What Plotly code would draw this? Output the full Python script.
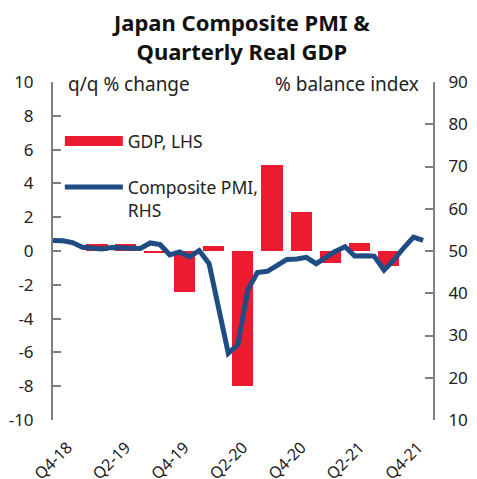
import plotly.graph_objects as go
import pandas as pd

# quarterly real GDP, q/q % change (LHS)
quarters = ["Q4-18", "Q1-19", "Q2-19", "Q3-19", "Q4-19", "Q1-20", "Q2-20",
            "Q3-20", "Q4-20", "Q1-21", "Q2-21", "Q3-21", "Q4-21"]
gdp = [None, 0.4, 0.4, -0.1, -2.4, 0.3, -8.0, 5.1, 2.3, -0.7, 0.5, -0.9, None]

# monthly composite PMI, Oct-18 .. Dec-21 (RHS)
pmi = [52.5, 52.4, 52.0, 50.9, 50.7, 50.5, 50.8, 50.7, 50.8, 50.6, 51.9, 51.5,
       49.1, 49.8, 48.6, 50.1, 47.0, 36.2, 25.8, 27.8, 40.8, 44.9, 45.2, 46.6,
       48.0, 48.1, 48.5, 47.0, 48.5, 49.9, 51.0, 48.8, 48.9, 48.8, 45.5, 47.9,
       50.7, 53.3, 52.5]

label_quarters = ["Q4-18", "Q2-19", "Q4-19", "Q2-20", "Q4-20", "Q2-21", "Q4-21"]
lhs_ticks = [-10, -8, -6, -4, -2, 0, 2, 4, 6, 8, 10]
lhs_text = ["-10", "-8", "-6", "-4", "-2", "0", "2", "4", "6", "8", "10"]

months = pd.date_range("2018-10-01", periods=len(pmi), freq="MS")
q_start = pd.date_range("2018-10-01", periods=len(quarters), freq="QS")
q_mid = q_start + pd.Timedelta(days=45, hours=12)
lbl_pos = [q_mid[quarters.index(q)] for q in label_quarters]

RED = "#ED1B2F"
BLUE = "#1F4C82"
GREY = "#7F7F7F"
FONT = "Noto Sans"
x_range = ["2018-10-01", "2022-01-01"]

fig = go.Figure()

fig.add_trace(go.Bar(
    x=q_mid, y=gdp, name="GDP, LHS",
    marker=dict(color=RED, line=dict(width=0)),
    width=66 * 86400000,
    showlegend=False,
))
# legend key for the bars (wide swatch like the original)
fig.add_trace(go.Scatter(
    x=[None], y=[None], mode="lines", name="GDP, LHS",
    line=dict(color=RED, width=12), legend="legend",
))
fig.add_trace(go.Scatter(
    x=months, y=pmi, mode="lines", name="Composite PMI,<br>RHS",
    line=dict(color=BLUE, width=5), yaxis="y2", legend="legend2",
))

# page body has an 8px margin, so the figure is sized/offset to fit the window
fig.update_layout(
    template="none",
    width=469, height=471,
    margin=dict(l=45, r=44, t=74, b=59),
    paper_bgcolor="white", plot_bgcolor="white",
    font=dict(family=FONT, size=17, color="#222222"),
    bargap=0,
    xaxis=dict(
        type="date", range=x_range, showgrid=False, zeroline=False,
        showline=False, ticks="", tickvals=lbl_pos, ticktext=label_quarters,
        tickangle=-45, tickfont=dict(size=16), automargin=False,
        ticklabelstandoff=14,
    ),
    xaxis2=dict(
        type="date", range=x_range, overlaying="x", anchor="free",
        position=0.5, showgrid=False, zeroline=False, showline=True,
        linecolor=GREY, linewidth=2, ticks="outside", ticklen=6,
        tickwidth=2, tickcolor=GREY, tick0="2019-01-01", dtick="M3",
        showticklabels=False, automargin=False,
    ),
    yaxis=dict(
        range=[-10, 10], tickvals=lhs_ticks, ticktext=lhs_text,
        showgrid=False, zeroline=False,
        showline=True, linecolor=GREY, linewidth=2, ticks="inside",
        ticklen=8, tickwidth=2, tickcolor=GREY, ticklabelstandoff=14,
        automargin=False,
    ),
    yaxis2=dict(
        range=[10, 90], dtick=10, overlaying="y", side="right",
        showgrid=False, zeroline=False, showline=True, linecolor=GREY,
        linewidth=2, ticks="inside", ticklen=8, tickwidth=2,
        tickcolor=GREY, ticklabelstandoff=10, automargin=False,
    ),
    legend=dict(
        x=0.018, xanchor="left", y=0.825, yanchor="middle",
        itemwidth=58, bgcolor="rgba(0,0,0,0)", borderwidth=0,
        font=dict(size=17.5),
    ),
    legend2=dict(
        x=0.018, xanchor="left", y=0.655, yanchor="middle",
        itemwidth=58, valign="top", bgcolor="rgba(0,0,0,0)", borderwidth=0,
        font=dict(size=17.5),
    ),
    annotations=[
        dict(text="<b>Japan Composite PMI &<br>Quarterly Real GDP</b>",
             xref="paper", yref="paper", x=0.495, y=1.136, xanchor="center",
             yanchor="middle", showarrow=False,
             font=dict(size=22, color="#111111")),
        dict(text="q/q % change", xref="paper", yref="paper", x=0.035,
             y=0.995, xanchor="left", yanchor="middle", showarrow=False,
             font=dict(size=19)),
        dict(text="% balance index", xref="paper", yref="paper", x=0.968,
             y=0.995, xanchor="right", yanchor="middle", showarrow=False,
             font=dict(size=19)),
    ],
)

fig.write_html("out.html")
